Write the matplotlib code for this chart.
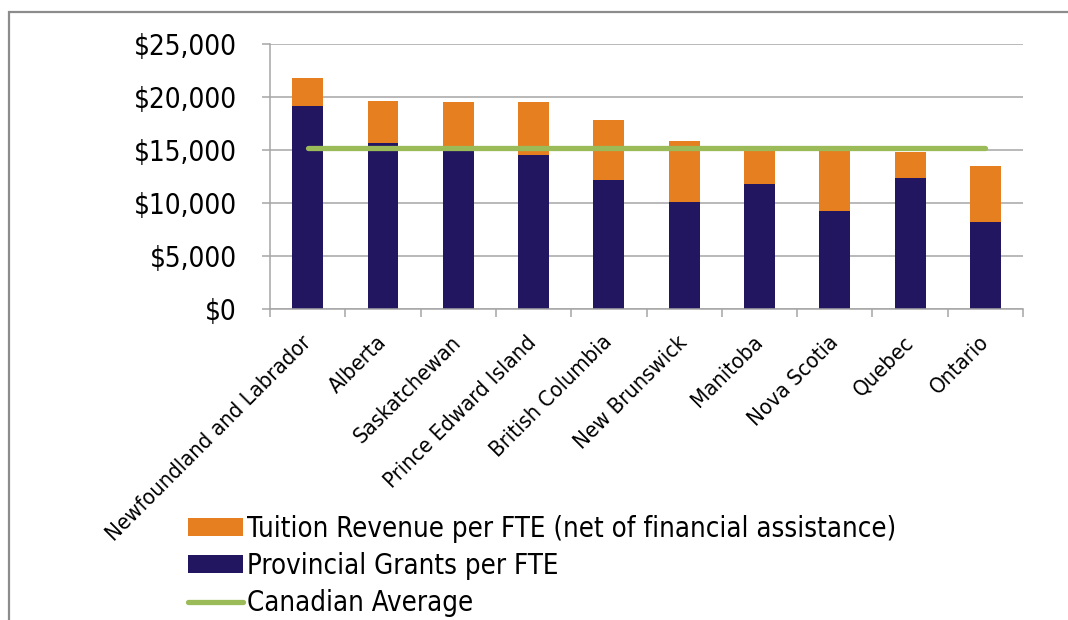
import matplotlib

matplotlib.use("Agg")
import matplotlib.pyplot as plt
from matplotlib import font_manager
from matplotlib.patches import Rectangle
from matplotlib.ticker import FuncFormatter, FixedLocator

# Financement par FTE, par province
provinces = [
    "Newfoundland and Labrador", "Alberta", "Saskatchewan",
    "Prince Edward Island", "British Columbia", "New Brunswick",
    "Manitoba", "Nova Scotia", "Quebec", "Ontario",
]
grants = [19150, 15600, 15000, 14550, 12150, 10100, 11750, 9200, 12300, 8150]
tuition = [2680, 4060, 4530, 4980, 5710, 5710, 3350, 5900, 2500, 5350]
canadian_avg = 15200

label_tuition = "Tuition Revenue per FTE (net of financial assistance)"
label_grants = "Provincial Grants per FTE"
label_avg = "Canadian Average"

NAVY = "#231660"
ORANGE = "#e67f1f"
GREEN = "#9bbb59"
GRID = "#a6a6a6"

# police proche de Tahoma: DejaVu Sans Condensed si elle existe
condensed = any(f.name == "DejaVu Sans" and f.stretch == "condensed"
                for f in font_manager.fontManager.ttflist)
plt.rcParams["font.family"] = ["DejaVu Sans"]
plt.rcParams["font.stretch"] = "condensed" if condensed else "normal"
plt.rcParams["text.parse_math"] = False
k = 1.0 if condensed else 0.88

fig = plt.figure(figsize=(10.68, 6.20), dpi=100)
ax = fig.add_axes([0.2528, 0.5024, 0.7051, 0.4266])

x = list(range(len(provinces)))
ax.bar(x, grants, width=0.41, color=NAVY, label=label_grants, zorder=2)
ax.bar(x, tuition, width=0.41, bottom=grants, color=ORANGE,
       label=label_tuition, zorder=2)
ax.plot([x[0], x[-1]], [canadian_avg, canadian_avg], color=GREEN, lw=3.8,
        solid_capstyle="round", label=label_avg, zorder=3)

ax.set_xlim(-0.5, len(provinces) - 0.5)
ax.set_ylim(0, 25000)
ax.set_yticks(range(0, 25001, 5000))
ax.yaxis.set_major_formatter(FuncFormatter(lambda v, _: f"${v:,.0f}"))
ax.grid(axis="y", color=GRID, lw=1.1, zorder=0)

for side in ["top", "right"]:
    ax.spines[side].set_visible(False)
for side in ["left", "bottom"]:
    ax.spines[side].set_color(GRID)
    ax.spines[side].set_linewidth(1.1)

ax.tick_params(axis="y", length=6, width=1.1, color=GRID, pad=18,
               labelsize=20 * k)
ax.set_xticks(x)
ax.set_xticklabels(provinces, rotation=45, ha="right", va="center",
                   rotation_mode="anchor", fontsize=15.8 * k)
ax.tick_params(axis="x", which="major", length=0, pad=22)
ax.xaxis.set_minor_locator(FixedLocator([i - 0.5 for i in range(len(provinces) + 1)]))
ax.tick_params(axis="x", which="minor", length=6, width=1.1, color=GRID)

handles, labels = ax.get_legend_handles_labels()
order = [labels.index(label_tuition), labels.index(label_grants), labels.index(label_avg)]
fig.legend([handles[i] for i in order], [labels[i] for i in order],
           loc="upper left", bbox_to_anchor=(0.176, 0.170), frameon=False,
           fontsize=19.8 * k, handlelength=2.0, handleheight=0.6,
           handletextpad=0.15, labelspacing=0.33, borderpad=0, borderaxespad=0)

# cadre gris autour du graphique
fig.add_artist(Rectangle((9 / 1068, -0.1), 1.2, 0.1 + 1 - 12 / 620,
                         transform=fig.transFigure, fill=False,
                         edgecolor="#8c8c8c", lw=1.6, clip_on=False))

fig.savefig("out.png", dpi=100)
